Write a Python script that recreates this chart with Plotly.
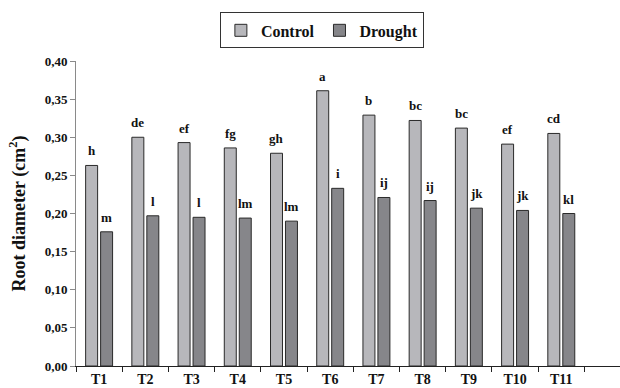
import plotly.graph_objects as go

treatments = ["T1", "T2", "T3", "T4", "T5", "T6", "T7", "T8", "T9", "T10", "T11"]
control = [0.263, 0.300, 0.293, 0.286, 0.279, 0.361, 0.329, 0.322, 0.312, 0.291, 0.305]
drought = [0.176, 0.197, 0.195, 0.194, 0.190, 0.233, 0.221, 0.217, 0.207, 0.204, 0.200]
control_letters = ["h", "de", "ef", "fg", "gh", "a", "b", "bc", "bc", "ef", "cd"]
drought_letters = ["m", "l", "l", "lm", "lm", "i", "ij", "ij", "jk", "jk", "kl"]
y_ticks = [0.00, 0.05, 0.10, 0.15, 0.20, 0.25, 0.30, 0.35, 0.40]
y_ticktext = [f"{v:.2f}".replace(".", ",") for v in y_ticks]

SERIF = "Liberation Serif"
EDGE = "#2a2a2a"

fig = go.Figure()
fig.add_trace(go.Bar(name="<b>Control</b>", x=treatments, y=control,
                     marker=dict(color="#b7b7bb", line=dict(color=EDGE, width=1))))
fig.add_trace(go.Bar(name="<b>Drought</b>", x=treatments, y=drought,
                     marker=dict(color="#86868a", line=dict(color=EDGE, width=1))))

# significance letters above each bar
annotations = []
for i in range(len(treatments)):
    for vals, letters, shift in ((control, control_letters, -7.5), (drought, drought_letters, 7.5)):
        annotations.append(dict(
            x=i, y=vals[i], xref="x", yref="y", text=f"<b>{letters[i]}</b>",
            showarrow=False, xanchor="center", yanchor="bottom",
            xshift=shift, yshift=5,
            font=dict(family=SERIF, size=13, color="#111"),
        ))

fig.update_layout(
    width=620, height=388,
    margin=dict(l=76, r=0, t=61, b=22),
    plot_bgcolor="white", paper_bgcolor="white",
    barmode="group", bargap=0.352, bargroupgap=0.2,
    font=dict(family=SERIF, color="#111"),
    legend=dict(
        orientation="h", x=0.452, xanchor="center",
        yref="container", y=0.968, yanchor="top",
        bordercolor="#333", borderwidth=1,
        font=dict(family=SERIF, size=16, color="#111"),
        itemwidth=30, traceorder="normal",
    ),
    annotations=annotations,
)
fig.update_xaxes(
    type="category", range=[-0.5, 11.27],
    showline=True, linecolor="#222", linewidth=1,
    ticks="outside", tickson="boundaries", ticklen=5, tickcolor="#222",
    tickfont=dict(family=SERIF, size=14, color="#111"),
    tickvals=treatments, ticktext=[f"<b>{t}</b>" for t in treatments],
    showgrid=False,
)
fig.update_yaxes(
    range=[0, 0.40], tickvals=y_ticks, ticktext=[f"<b>{t}</b>" for t in y_ticktext],
    showline=True, linecolor="#8a8a8a", linewidth=1,
    ticks="outside", ticklen=5, tickcolor="#8a8a8a",
    tickfont=dict(family=SERIF, size=13, color="#111"),
    title=dict(text="<b>Root diameter (cm<sup>2</sup>)</b>",
               font=dict(family=SERIF, size=18, color="#111"), standoff=14),
    showgrid=False, zeroline=False,
)

fig.write_html("out.html")
